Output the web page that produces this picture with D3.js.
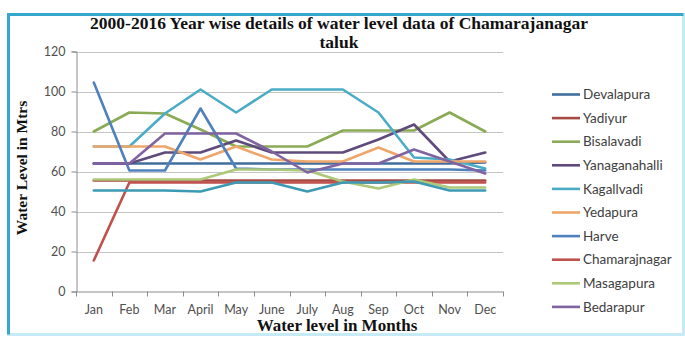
<!DOCTYPE html>
<html><head><meta charset="utf-8">
<script src="https://cdn.jsdelivr.net/npm/d3@7"></script>
<style>html,body{margin:0;padding:0;background:#fff;}svg{display:block;}</style>
</head><body>
<svg id="chart" width="685" height="340"></svg>
<script>
const months = ["Jan","Feb","Mar","April","May","June","July","Aug","Sep","Oct","Nov","Dec"];
const yTicks = [0,20,40,60,80,100,120];
const seriesNames = ["Devalapura","Yadiyur","Bisalavadi","Yanaganahalli","Kagallvadi","Yedapura","Harve","Chamarajnagar","Masagapura","Bedarapur","(unlisted)"];
const legendCount = 10;
const devalapura    = [64,64,64,64,64,64,64,64,64,64,64,64.5];
const yadiyur       = [55.5,55.5,55.5,55.5,55.5,55.5,55.5,55.5,55.5,55.5,55.5,55.5];
const bisalavadi    = [80,89.5,89,81,72.5,72.5,72.5,80.5,80.5,80.5,89.5,80];
const yanaganahalli = [64,64,69.5,69.5,75.5,69.5,69.5,69.5,76,83.5,65,69.5];
const kagallvadi    = [72.5,72.5,89,101,89.5,101,101,101,89.5,67,66,61.5];
const yedapura      = [72.5,72.5,72.5,66,72.5,66,65,65,72,65,65,65];
const harve         = [104.5,60.5,60.5,91.5,61.5,61,61,61,61,61,61,60.5];
const chamarajnagar = [15.5,54.5,54.5,54.5,54.5,54.5,54.5,54.5,54.5,54.5,54.5,54.5];
const masagapura    = [56,56,56,56,61,61,60.5,55,51.5,56,52,52];
const bedarapur     = [64,64,79,79,79,70,59.5,64,64,71,65,59];
const unlisted      = [50.5,50.5,50.5,50,54.5,54.5,50,54.5,54.5,55,50.5,50.5];
const seriesValues = [devalapura,yadiyur,bisalavadi,yanaganahalli,kagallvadi,yedapura,harve,chamarajnagar,masagapura,bedarapur,unlisted];
const seriesColors = ["#416E9D","#A64B44","#8AAB55","#5E4B7C","#4BACC6","#EFA66A","#4F81BD","#C0504D","#ADC878","#8064A2","#3C9AB4"];

const svg = d3.select("#chart");
// outer frame
svg.append("rect").attr("x",8.5).attr("y",14.5).attr("width",675).attr("height",320)
  .attr("fill","#fff").attr("stroke","#C6EBF6").attr("stroke-width",3);
svg.append("path").attr("d","M8.5,334.5 V14.5 H683.5").attr("fill","none")
  .attr("stroke","#35A8CB").attr("stroke-width",3);

const x0 = 76, x1 = 503, yTop = 51.5, yBot = 291.5;
const x = d3.scaleBand().domain(months).range([x0,x1]);
const y = d3.scaleLinear().domain([0,120]).range([yBot,yTop]);

// gridlines
svg.append("g").selectAll("line").data(yTicks.filter(d=>d>0)).join("line")
  .attr("x1",x0).attr("x2",x1).attr("y1",d=>Math.round(y(d))+0.5).attr("y2",d=>Math.round(y(d))+0.5)
  .attr("stroke","#C4C4C4").attr("stroke-width",1);

// y axis
const yAxis = svg.append("g").attr("transform",`translate(${x0+0.5},0)`)
  .call(d3.axisLeft(y).tickValues(yTicks).tickSize(5).tickPadding(6));
yAxis.select(".domain").attr("stroke","#8C8C8C");
yAxis.selectAll(".tick line").attr("stroke","#8C8C8C");
yAxis.selectAll("text").attr("font-family","Lato, 'Open Sans', sans-serif").attr("font-size","12.5px").attr("fill","#505050");

// x axis
const xAxis = svg.append("g").attr("transform",`translate(0,${yBot})`)
  .call(d3.axisBottom(x).tickSize(0).tickPadding(14));
xAxis.select(".domain").attr("stroke","#8C8C8C");
xAxis.selectAll("text").attr("font-family","Lato, 'Open Sans', sans-serif").attr("font-size","12.5px").attr("fill","#505050");
svg.append("g").selectAll("line").data(d3.range(months.length+1)).join("line")
  .attr("x1",i=>Math.round(x0+i*x.step())+0.5).attr("x2",i=>Math.round(x0+i*x.step())+0.5)
  .attr("y1",yBot).attr("y2",yBot+5).attr("stroke","#8C8C8C");

// lines
const line = d3.line().x((d,i)=>x(months[i])+x.bandwidth()/2).y(d=>y(d));
svg.append("g").selectAll("path").data(seriesValues).join("path")
  .attr("d",d=>line(d)).attr("fill","none")
  .attr("stroke",(d,i)=>seriesColors[i]).attr("stroke-width",2.6)
  .attr("stroke-linejoin","round").attr("stroke-linecap","round");

// legend
const lg = svg.append("g");
const lgItems = lg.selectAll("g").data(seriesNames.slice(0,legendCount)).join("g")
  .attr("transform",(d,i)=>`translate(552,${94.5+i*23.6})`);
lgItems.append("line").attr("x1",0).attr("x2",28).attr("stroke",(d,i)=>seriesColors[i]).attr("stroke-width",2.6);
lgItems.append("text").attr("x",31).attr("dy","0.35em").text(d=>d)
  .attr("font-family","Lato, 'Open Sans', sans-serif").attr("font-size","13.5px").attr("fill","#404040");

// titles
const serif = "'Liberation Serif','Times New Roman',serif";
svg.append("text").attr("x",339).attr("y",29).attr("text-anchor","middle")
  .attr("font-family",serif).attr("font-weight","bold").attr("font-size","17.5px").attr("fill","#111")
  .text("2000-2016 Year wise details of water level data of Chamarajanagar");
svg.append("text").attr("x",339).attr("y",48).attr("text-anchor","middle")
  .attr("font-family",serif).attr("font-weight","bold").attr("font-size","17.5px").attr("fill","#111")
  .text("taluk");
svg.append("text").attr("transform","translate(27,168) rotate(-90)").attr("text-anchor","middle")
  .attr("font-family",serif).attr("font-weight","bold").attr("font-size","15.5px").attr("fill","#111")
  .text("Water Level in Mtrs");
svg.append("text").attr("x",337).attr("y",331).attr("text-anchor","middle")
  .attr("font-family",serif).attr("font-weight","bold").attr("font-size","17px").attr("fill","#111")
  .text("Water level in Months");
</script>
</body></html>
